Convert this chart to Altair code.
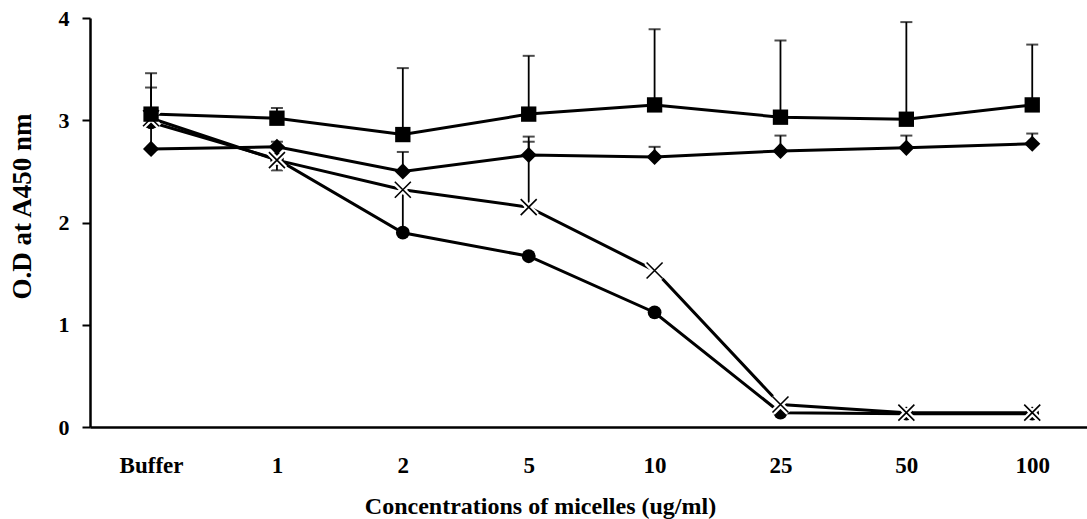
import altair as alt
import pandas as pd

categories = ["Buffer", "1", "2", "5", "10", "25", "50", "100"]
square = [3.06, 3.02, 2.86, 3.06, 3.15, 3.03, 3.01, 3.15]
square_err_end = [3.46, 3.12, 3.51, 3.63, 3.89, 3.78, 3.96, 3.74]
diamond = [2.72, 2.74, 2.50, 2.66, 2.64, 2.70, 2.73, 2.77]
diamond_err_end = [3.32, 2.79, 2.69, 2.84, 2.74, 2.85, 2.85, 2.87]
cross = [3.02, 2.61, 2.32, 2.15, 1.53, 0.22, 0.14, 0.14]
cross_err_end = [2.94, 2.51, 1.93, 2.79, None, None, None, None]
circle = [2.98, 2.62, 1.90, 1.67, 1.12, 0.14, 0.13, 0.13]

series = {"square": square, "diamond": diamond, "cross": cross, "circle": circle}
errs = {"square": square_err_end, "diamond": diamond_err_end, "cross": cross_err_end}

rows = []
for name, vals in series.items():
    for i, v in enumerate(vals):
        rows.append({"series": name, "idx": i, "value": v})
df = pd.DataFrame(rows)

erows = []
for name, ends in errs.items():
    for i, e in enumerate(ends):
        if e is not None:
            erows.append({"series": name, "idx": i, "value": series[name][i], "end": e})
edf = pd.DataFrame(erows)

FONT = "Liberation Serif"
label_arr = "[" + ",".join("'%s'" % c for c in categories) + "]"

x_enc = alt.X(
    "idx:Q",
    scale=alt.Scale(domain=[-0.485, 7.435], nice=False, zero=False),
    axis=alt.Axis(
        values=list(range(len(categories))),
        labelExpr=label_arr + "[datum.value]",
        ticks=False,
        tickSize=0,
        grid=False,
        domainColor="black",
        domainWidth=2.5,
        labelFont=FONT,
        labelFontWeight="bold",
        labelFontSize=23,
        labelColor="black",
        labelBaseline="alphabetic",
        labelPadding=45,
        title="Concentrations of micelles (ug/ml)",
        titleFont=FONT,
        titleFontWeight="bold",
        titleFontSize=24,
        titleColor="black",
        titleX=450,
        titleY=86,
        titleAlign="center",
        titleBaseline="alphabetic",
    ),
)
y_scale = alt.Scale(domain=[0, 4], nice=False, zero=True)
y_enc = alt.Y(
    "value:Q",
    scale=y_scale,
    axis=alt.Axis(
        values=[0, 1, 2, 3, 4],
        format="d",
        grid=False,
        domainColor="black",
        domainWidth=2.5,
        tickColor="black",
        tickWidth=2,
        tickSize=8,
        labelFont=FONT,
        labelFontWeight="bold",
        labelFontSize=22,
        labelColor="black",
        labelPadding=13,
        labelBaseline="middle",
        title="O.D at A450 nm",
        titleFont=FONT,
        titleFontWeight="bold",
        titleFontSize=27,
        titleColor="black",
        titleAngle=-90,
        titleX=-68,
        titleY=188,
        titleAlign="center",
        titleBaseline="middle",
    ),
)

base = alt.Chart(df)
ebase = alt.Chart(edf)

err_rule = ebase.mark_rule(color="black", strokeWidth=1.8).encode(
    x="idx:Q", y=alt.Y("value:Q", scale=y_scale), y2="end:Q"
)
err_cap = ebase.mark_tick(color="black", orient="horizontal", size=12, thickness=2).encode(
    x="idx:Q", y=alt.Y("end:Q", scale=y_scale)
)

layers = [err_rule, err_cap]
for name in ["square", "diamond", "circle", "cross"]:
    layers.append(
        base.transform_filter(alt.datum.series == name)
        .mark_line(color="black", strokeWidth=3)
        .encode(x=x_enc, y=y_enc)
    )

XPATH = "M-1,-1L1,1M-1,1L1,-1"
layers.append(
    base.transform_filter(alt.datum.series == "circle")
    .mark_point(color="black", opacity=1, shape="circle", size=190, filled=True)
    .encode(x="idx:Q", y=alt.Y("value:Q", scale=y_scale))
)
layers.append(
    base.transform_filter(alt.datum.series == "cross")
    .mark_point(shape=XPATH, size=256, filled=False, stroke="white", strokeWidth=6, opacity=1)
    .encode(x="idx:Q", y=alt.Y("value:Q", scale=y_scale))
)
layers.append(
    base.transform_filter(alt.datum.series == "cross")
    .mark_point(shape=XPATH, size=256, filled=False, stroke="black", strokeWidth=1.6, opacity=1)
    .encode(x="idx:Q", y=alt.Y("value:Q", scale=y_scale))
)
layers.append(
    base.transform_filter(alt.datum.series == "diamond")
    .mark_point(color="black", opacity=1, shape="diamond", size=260, filled=True)
    .encode(x="idx:Q", y=alt.Y("value:Q", scale=y_scale))
)
layers.append(
    base.transform_filter(alt.datum.series == "square")
    .mark_point(color="black", opacity=1, shape="square", size=235, filled=True)
    .encode(x="idx:Q", y=alt.Y("value:Q", scale=y_scale))
)

chart = (
    alt.layer(*layers)
    .properties(
        width=997,
        height=409,
        autosize=alt.AutoSizeParams(type="none"),
        padding={"left": 90, "top": 18, "right": 0, "bottom": 92},
        background="white",
    )
    .configure_view(stroke=None)
)

chart.save("out.html", embed_options={"renderer": "svg", "actions": False})
